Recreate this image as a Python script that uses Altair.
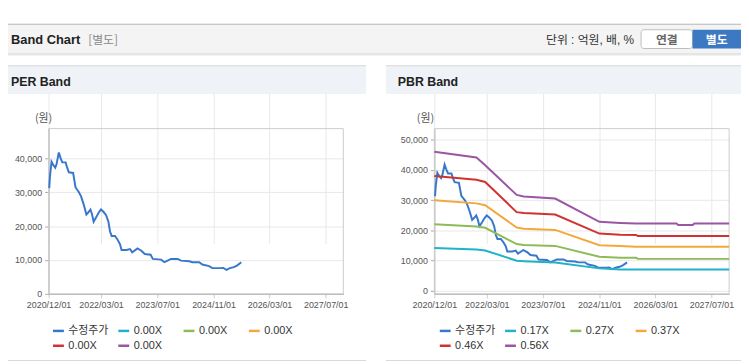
import altair as alt
import pandas as pd

# ---------------- data ----------------
PRICE_DATES = ["2020-12-07","2020-12-13","2020-12-27","2021-01-11","2021-01-28","2021-02-08","2021-02-28",
               "2021-03-16","2021-03-30","2021-04-28","2021-05-09","2021-05-26","2021-07-02","2021-07-23",
               "2021-08-20","2021-09-09","2021-10-02","2021-10-25","2021-11-08","2021-11-29","2021-12-13",
               "2021-12-27","2022-01-19","2022-02-08","2022-02-28","2022-03-22","2022-04-14","2022-05-04",
               "2022-05-18","2022-06-01","2022-06-30","2022-07-20","2022-08-12","2022-08-26","2022-10-08",
               "2022-11-07","2022-11-26","2023-01-11","2023-02-14","2023-03-15","2023-05-05","2023-05-24",
               "2023-08-04","2023-09-02","2023-10-29","2023-12-26","2024-01-23","2024-04-04","2024-05-02",
               "2024-06-29","2024-07-27","2024-09-23","2024-10-21","2025-01-01","2025-01-24","2025-02-21",
               "2025-03-22","2025-04-25","2025-05-23","2025-06-29"]
PRICE_VALUES = [31240,34630,39010,38040,37260,38250,41750,40000,38830,38830,37500,35910,35710,31420,
                30070,28790,26360,23440,23940,24900,23500,21310,22660,23940,24900,24230,23240,21310,
                18390,17110,17110,16150,14690,12930,12930,13230,12260,13430,12730,11770,11560,10310,
                10100,9340,10310,10310,9810,9630,9340,9340,8640,8180,7590,7590,7650,7100,7590,7880,
                8350,9340]

BAND_DATES = ["2020-12-01","2021-12-01","2022-02-15","2022-11-15","2023-01-15","2023-10-15","2024-11-01",
              "2025-05-01","2025-09-15","2025-10-01","2026-09-01","2026-09-15","2027-01-20","2027-02-01",
              "2027-12-01"]
BAND_017 = [14100,13600,13300,9900,9750,9300,7350,7000,6980,6980,6980,6980,6980,6980,6980]
BAND_027 = [22000,21200,20800,15400,15100,14800,11200,10850,10850,10500,10500,10500,10500,10500,10500]
BAND_037 = [29900,28900,28300,20900,20500,20100,15000,14750,14550,14550,14550,14550,14550,14550,14550]
BAND_046 = [38000,36700,36000,26000,25700,25200,18900,18500,18450,18050,18050,18050,18050,18050,18050]
BAND_056 = [46000,44100,41500,31700,31200,30500,22800,22400,22200,22200,22200,21750,21750,22200,22200]

PRICE_NAME = "수정주가"
PBR_NAMES = ["0.17X", "0.27X", "0.37X", "0.46X", "0.56X"]
PER_KEYS = [PRICE_NAME, "0.00X#1", "0.00X#2", "0.00X#3", "0.00X#4", "0.00X#5"]
PBR_KEYS = [PRICE_NAME] + PBR_NAMES
COLORS = ["#3878cc", "#22b1c9", "#8dbb58", "#f2a93b", "#d0332f", "#9b55a4"]

TICK_DATES = [(2020, 12, 1), (2022, 3, 1), (2023, 7, 1), (2024, 11, 1), (2026, 3, 1), (2027, 7, 1)]
X_DOMAIN = [(2020, 12, 1), (2027, 12, 1)]
PER_Y_TICKS = [0, 10000, 20000, 30000, 40000]
PBR_Y_TICKS = [0, 10000, 20000, 30000, 40000, 50000]
PER_Y_DOMAIN = [0, 48800]
PBR_Y_DOMAIN = [-1080, 53670]

# ---------------- frames ----------------
price_df = pd.DataFrame({"date": pd.to_datetime(PRICE_DATES), "value": PRICE_VALUES, "series": PRICE_NAME})
band_frames = [price_df]
for name, vals in zip(PBR_NAMES, [BAND_017, BAND_027, BAND_037, BAND_046, BAND_056]):
    band_frames.append(pd.DataFrame({"date": pd.to_datetime(BAND_DATES), "value": vals, "series": name}))
pbr_df = pd.concat(band_frames, ignore_index=True)
dummy = pd.DataFrame({"k": [0]})

FONT = "'Liberation Sans', 'Noto Sans CJK KR', sans-serif"
KFONT = "'Noto Sans CJK KR', 'Liberation Sans', sans-serif"
W, H = 741, 356
PLOT_TOP, PLOT_BOTTOM = 120, 287


def dt(t):
    return alt.DateTime(year=t[0], month=t[1], date=t[2])


def x_enc(left, right):
    return alt.X(
        "date:T", title=None,
        scale=alt.Scale(domain=[dt(t) for t in X_DOMAIN], range=[left, right], nice=False),
        axis=alt.Axis(orient="bottom", offset=PLOT_BOTTOM - H, values=[dt(t) for t in TICK_DATES],
                      format="%Y/%m/%d", labelOverlap=False, labelFlush=False, grid=True,
                      gridColor="#e8e8e8", domainColor="#aaaaaa", tickColor="#cccccc", tickSize=4,
                      labelFont=FONT, labelFontSize=9, labelColor="#555555", labelPadding=3))


def y_enc(domain, ticks, left):
    return alt.Y(
        "value:Q", title=None,
        scale=alt.Scale(domain=domain, range=[PLOT_BOTTOM, PLOT_TOP], nice=False, zero=False),
        axis=alt.Axis(orient="left", offset=-left, values=ticks, format=",d", grid=True,
                      gridColor="#e8e8e8", domainColor="#aaaaaa", tickColor="#aaaaaa", tickSize=4,
                      labelFont=FONT, labelFontSize=9, labelColor="#555555", labelPadding=3))


def legend(lx, expr=None):
    kw = dict(title=None, orient="none", legendX=lx, legendY=317.5, direction="horizontal", columns=4,
              symbolType="stroke", symbolSize=121, symbolStrokeWidth=2.5, labelFont=FONT,
              labelFontSize=11, labelColor="#333333", columnPadding=4, rowPadding=3,
              gridAlign="all", labelOffset=3, padding=0)
    if expr:
        kw["labelExpr"] = expr
    return alt.Legend(**kw)


def rect(x, x2, y, y2, **kw):
    return alt.Chart(dummy).mark_rect(**kw).encode(
        x=alt.value(x), x2=alt.value(x2), y=alt.value(y), y2=alt.value(y2))


def text(x, y, s, **kw):
    return alt.Chart(dummy).mark_text(baseline="middle", **kw).encode(
        x=alt.value(x), y=alt.value(y), text=alt.value(s))


PER_L, PER_R = 41, 339
PBR_L, PBR_R = 431, 729

per_line = alt.Chart(price_df).mark_line(strokeWidth=2).encode(
    x=x_enc(PER_L, PER_R),
    y=y_enc(PER_Y_DOMAIN, PER_Y_TICKS, PER_L),
    color=alt.Color("series:N", scale=alt.Scale(domain=PER_KEYS, range=COLORS),
                    legend=legend(44, "split(datum.label, '#')[0]")),
)

pbr_line = alt.Chart(pbr_df).mark_line(strokeWidth=2).encode(
    x=x_enc(PBR_L, PBR_R),
    y=y_enc(PBR_Y_DOMAIN, PBR_Y_TICKS, PBR_L),
    color=alt.Color("series:N", scale=alt.Scale(domain=PBR_KEYS, range=COLORS), legend=legend(435)),
)

layers = [
    # top header bar
    rect(0, W, 14, 44, fill="#f4f4f4"),
    rect(0, W, 14, 15, fill="#b8b8b8"),
    rect(0, W, 44, 45, fill="#cfcfcf"),
    rect(0, W, 45, 46, fill="#e6e6e6"),
    # buttons
    rect(640, 692, 20, 39, fill="#ffffff", stroke="#bdbdbd", strokeWidth=1, cornerRadius=3),
    rect(692, W, 20, 39, fill="#3d79c2"),
    # panel headers
    rect(0, 362, 56, 85, fill="#eff2f7"),
    rect(0, 362, 56, 57, fill="#d9d9d9"),
    rect(382, W, 56, 85, fill="#eff2f7"),
    rect(382, W, 56, 57, fill="#d9d9d9"),
    # bottom lines
    rect(0, 362, 354, 355, fill="#d9d9d9"),
    rect(382, W, 354, 355, fill="#d9d9d9"),
    # plot frames
    rect(PER_L, PER_R, PLOT_TOP, PLOT_BOTTOM, fillOpacity=0, stroke="#cccccc", strokeWidth=1),
    rect(PBR_L, PBR_R, PLOT_TOP, PLOT_BOTTOM, fillOpacity=0, stroke="#cccccc", strokeWidth=1),
    per_line,
    pbr_line,
    # texts
    text(3, 30.5, "Band Chart", align="left", font=FONT, fontSize=13, fontWeight="bold", color="#222222"),
    text(81, 30.5, "[별도]", align="left", font=KFONT, fontSize=12, color="#888888"),
    text(633, 30, "단위 : 억원, 배, %", align="right", font=FONT, fontSize=12, color="#333333"),
    text(666, 30, "연결", align="center", font=KFONT, fontSize=12, fontWeight="bold", color="#666666"),
    text(716.5, 30, "별도", align="center", font=KFONT, fontSize=12, fontWeight="bold", color="#ffffff"),
    text(3, 72.5, "PER Band", align="left", font=FONT, fontSize=12.5, fontWeight="bold", color="#222222"),
    text(394, 72.5, "PBR Band", align="left", font=FONT, fontSize=12.5, fontWeight="bold", color="#222222"),
    text(36, 110, "(원)", align="center", font=KFONT, fontSize=11, color="#555555"),
    text(422, 110, "(원)", align="center", font=KFONT, fontSize=11, color="#555555"),
]

chart = alt.layer(*layers).resolve_scale(
    x="independent", y="independent", color="independent"
).properties(
    width=W, height=H, autosize=alt.AutoSizeParams(type="none"), padding=0
).configure_view(stroke=None)

chart.save("out.html", embed_options={"renderer": "svg", "actions": False})
